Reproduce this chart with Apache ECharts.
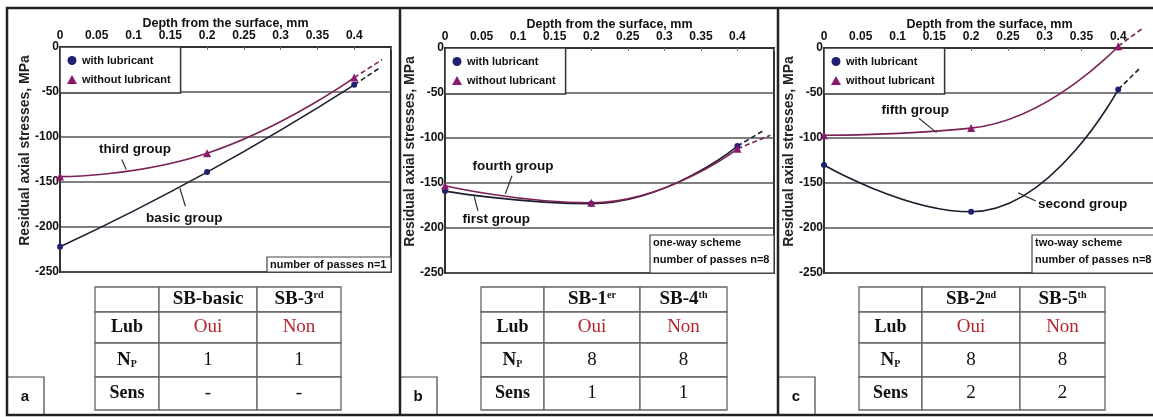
<!DOCTYPE html>
<html>
<head>
<meta charset="utf-8">
<script src="https://cdn.jsdelivr.net/npm/echarts@6.0.0/dist/echarts.min.js"></script>
<style>
  html, body { margin: 0; padding: 0; background: #fff; }
  #chart { width: 1153px; height: 417px; }
</style>
</head>
<body>
<div id="chart"></div>
<script>
var FONT = '"Liberation Sans", Arial, sans-serif';
var SERIF = '"Liberation Serif", "Times New Roman", serif';

// depth axis (mm) and stress axis (MPa)
var depthPoints = [0, 0.2, 0.4];
var depthTickLabels = ['0', '0.05', '0.1', '0.15', '0.2', '0.25', '0.3', '0.35', '0.4'];
var stressTickLabels = ['-250', '-200', '-150', '-100', '-50', '0'];

// panel a
var basicGroup = [-222, -139, -42];
var thirdGroup = [-144, -118, -34];
var basicGroupTail = [0.435, -23];
var thirdGroupTail = [0.438, -14];
// panel b
var firstGroup = [-159, -173, -109];
var fourthGroup = [-153, -172, -112];
var firstGroupTail = [0.435, -92];
var fourthGroupTail = [0.445, -97];
// panel c
var secondGroup = [-130, -182, -46];
var fifthGroup = [-97, -89, 2];
var secondGroupTail = [0.43, -22];
var fifthGroupTail = [0.435, 23];

var panelLetters = ['a', 'b', 'c'];
var passesNotes = [
  ['number of passes n=1'],
  ['one-way scheme', 'number of passes n=8'],
  ['two-way scheme', 'number of passes n=8']
];

// tables under each plot
var tableRowLabels = ['Lub', 'NP', 'Sens'];
var tableHeads = [
  [['SB-basic', ''], ['SB-3', 'rd']],
  [['SB-1', 'er'], ['SB-4', 'th']],
  [['SB-2', 'nd'], ['SB-5', 'th']]
];
var tableLub = ['Oui', 'Non'];
var tablePasses = [['1', '1'], ['8', '8'], ['8', '8']];
var tableSens = [['-', '-'], ['1', '1'], ['2', '2']];

// group labels, placed in data coordinates of each panel
var groupLabels = [
  { panel: 0, text: 'third group', at: [0.102, -114], from: [0.084, -125], to: [0.090, -136] },
  { panel: 0, text: 'basic group', at: [0.169, -190], from: [0.163, -157], to: [0.1705, -177] },
  { panel: 1, text: 'fourth group', at: [0.093, -131], from: [0.0916, -142], to: [0.0826, -162] },
  { panel: 1, text: 'first group', at: [0.070, -190], from: [0.040, -165], to: [0.045, -181] },
  { panel: 2, text: 'fifth group', at: [0.124, -69], from: [0.129, -78], to: [0.153, -94] },
  { panel: 2, text: 'second group', at: [0.3515, -174], from: [0.264, -161], to: [0.288, -170] }
];

var gridLeft = [60, 445, 824];
var gridTop = [47, 48, 48];
var gridWidth = [331, 329, 331];
var gridHeight = 225;
var tableX = [[95, 159, 257, 341], [481, 544, 640, 727], [859, 922, 1020, 1105]];
var tableY = [287, 312, 343, 377, 410];
var panelX = [7, 400, 778];

var withLub = [basicGroup, firstGroup, secondGroup];
var withoutLub = [thirdGroup, fourthGroup, fifthGroup];
var withTail = [basicGroupTail, firstGroupTail, secondGroupTail];
var withoutTail = [thirdGroupTail, fourthGroupTail, fifthGroupTail];

var WITH_LINE = '#1d1d30', WITH_MARK = '#1f2070';
var WITHOUT_LINE = '#7b2257', WITHOUT_MARK = '#8a1a6e';

function pairs(values) {
  return depthPoints.map(function (d, i) { return [d, values[i]]; });
}

var series = [];
[0, 1, 2].forEach(function (i) {
  series.push({
    name: 'with lubricant', type: 'line', xAxisIndex: i, yAxisIndex: i,
    data: pairs(withLub[i]), smooth: 0.5, clip: false,
    symbol: 'circle', symbolSize: 6,
    lineStyle: { color: WITH_LINE, width: 1.6 },
    itemStyle: { color: WITH_MARK }, z: 4
  });
  series.push({
    name: 'without lubricant', type: 'line', xAxisIndex: i, yAxisIndex: i,
    data: pairs(withoutLub[i]), smooth: 0.5, clip: false,
    symbol: 'triangle', symbolSize: 8,
    lineStyle: { color: WITHOUT_LINE, width: 1.6 },
    itemStyle: { color: WITHOUT_MARK }, z: 4
  });
  series.push({
    name: 'with tail ' + i, type: 'line', xAxisIndex: i, yAxisIndex: i,
    data: [[0.4, withLub[i][2]], withTail[i]], clip: false, symbol: 'none',
    lineStyle: { color: WITH_LINE, width: 1.6, type: [5, 3] }, z: 3
  });
  series.push({
    name: 'without tail ' + i, type: 'line', xAxisIndex: i, yAxisIndex: i,
    data: [[0.4, withoutLub[i][2]], withoutTail[i]], clip: false, symbol: 'none',
    lineStyle: { color: WITHOUT_LINE, width: 1.6, type: [5, 3] }, z: 3
  });
});

var option = {
  animation: false,
  backgroundColor: '#fff',
  grid: [0, 1, 2].map(function (i) {
    return {
      left: gridLeft[i], top: gridTop[i], width: gridWidth[i], height: gridHeight,
      show: true, borderColor: '#333', borderWidth: 2, backgroundColor: 'transparent',
      containLabel: false, outerBoundsMode: 'none'
    };
  }),
  xAxis: [0, 1, 2].map(function (i) {
    return {
      gridIndex: i, type: 'value', position: 'top', min: 0, max: 0.45, interval: 0.05,
      name: 'Depth from the surface, mm', nameLocation: 'middle', nameGap: 17, nameMoveOverlap: false,
      nameTextStyle: { fontFamily: FONT, fontWeight: 'bold', fontSize: 12.5, color: '#111' },
      axisLine: { show: true, lineStyle: { color: '#333', width: 2 } },
      axisTick: { show: true, inside: true, length: 3, lineStyle: { color: '#777' } },
      axisLabel: {
        margin: 5, fontFamily: FONT, fontWeight: 'bold', fontSize: 12, color: '#111',
        formatter: function (v) { var k = Math.round(v / 0.05); return depthTickLabels[k] || ''; }
      },
      splitLine: { show: false }
    };
  }),
  yAxis: [0, 1, 2].map(function (i) {
    return {
      gridIndex: i, type: 'value', min: -250, max: 0, interval: 50,
      name: 'Residual axial stresses, MPa', nameLocation: 'middle', nameGap: 28, nameRotate: 90,
      nameMoveOverlap: false,
      nameTextStyle: { fontFamily: FONT, fontWeight: 'bold', fontSize: 14, color: '#222', padding: [0, 0, 0, 18] },
      axisLine: { show: true, lineStyle: { color: '#333', width: 2 } },
      axisTick: { show: false },
      axisLabel: {
        margin: 1, fontFamily: FONT, fontWeight: 'bold', fontSize: 12, color: '#111',
        formatter: function (v) { var k = Math.round((v + 250) / 50); return stressTickLabels[k]; }
      },
      splitLine: { show: true, lineStyle: { color: '#555', width: 1.6 } }
    };
  }),
  legend: [0, 1, 2].map(function (i) {
    return {
      left: gridLeft[i], top: gridTop[i], orient: 'vertical', selectedMode: false,
      data: [{ name: 'with lubricant', icon: 'circle' }, { name: 'without lubricant', icon: 'triangle' }],
      backgroundColor: '#fff', borderColor: '#333', borderWidth: 1.5,
      padding: [8, 10, 8, 7], itemGap: 8, itemWidth: 10, itemHeight: 9,
      textStyle: { fontFamily: FONT, fontWeight: 'bold', fontSize: 11, color: '#111' }
    };
  }),
  series: series
};

var chart = echarts.init(document.getElementById('chart'));
chart.setOption(option);

var g = [];
// frame and dividers
g.push({ type: 'rect', shape: { x: 7, y: 8, width: 1152, height: 407 },
  style: { fill: 'none', stroke: '#222', lineWidth: 2.5 }, z: 100 });
[400, 778].forEach(function (x) {
  g.push({ type: 'line', shape: { x1: x, y1: 8, x2: x, y2: 415 },
    style: { stroke: '#222', lineWidth: 2.5 }, z: 100 });
});
// panel letters
panelLetters.forEach(function (t, i) {
  g.push({ type: 'rect', shape: { x: panelX[i], y: 377, width: 37, height: 38 },
    style: { fill: '#fff', stroke: '#444', lineWidth: 1.2 }, z: 90 });
  g.push({ type: 'text', x: panelX[i] + 18, y: 397,
    style: { text: t, fontFamily: FONT, fontWeight: 'bold', fontSize: 15, fill: '#111', align: 'center', verticalAlign: 'middle' }, z: 91 });
});
// passes notes
passesNotes.forEach(function (lines, i) {
  var right = gridLeft[i] + gridWidth[i];
  var h = lines.length === 1 ? 15 : 38;
  var x0 = i === 0 ? 267 : (i === 1 ? 650 : 1032);
  var y0 = gridTop[i] + gridHeight - h;
  g.push({ type: 'rect', shape: { x: x0, y: y0, width: right - x0, height: h },
    style: { fill: '#fff', stroke: '#444', lineWidth: 1.2 }, z: 20 });
  lines.forEach(function (t, k) {
    g.push({ type: 'text', x: x0 + 3, y: y0 + 8 + k * 17,
      style: { text: t, fontFamily: FONT, fontWeight: 'bold', fontSize: 11, fill: '#111', align: 'left', verticalAlign: 'middle' }, z: 21 });
  });
});
// group labels
groupLabels.forEach(function (a) {
  var p = chart.convertToPixel({ gridIndex: a.panel }, a.at);
  var p1 = chart.convertToPixel({ gridIndex: a.panel }, a.from);
  var p2 = chart.convertToPixel({ gridIndex: a.panel }, a.to);
  g.push({ type: 'text', x: p[0], y: p[1],
    style: { text: a.text, fontFamily: FONT, fontWeight: 'bold', fontSize: 13.5, fill: '#111', align: 'center', verticalAlign: 'middle' }, z: 30 });
  g.push({ type: 'line', shape: { x1: p1[0], y1: p1[1], x2: p2[0], y2: p2[1] },
    style: { stroke: '#333', lineWidth: 1.2 }, z: 30 });
});
// tables
var rich = {
  h: { fontFamily: SERIF, fontWeight: 'bold', fontSize: 19, fill: '#111', color: '#111' },
  s: { fontFamily: SERIF, fontWeight: 'bold', fontSize: 10, fill: '#111', color: '#111', verticalAlign: 'top' },
  d: { fontFamily: SERIF, fontWeight: 'bold', fontSize: 10, fill: '#111', color: '#111', verticalAlign: 'bottom' }
};
[0, 1, 2].forEach(function (i) {
  var xs = tableX[i];
  for (var r = 0; r < 4; r++) {
    for (var c = 0; c < 3; c++) {
      var cx = (xs[c] + xs[c + 1]) / 2, cy = (tableY[r] + tableY[r + 1]) / 2;
      g.push({ type: 'rect', shape: { x: xs[c], y: tableY[r], width: xs[c + 1] - xs[c], height: tableY[r + 1] - tableY[r] },
        style: { fill: '#fff', stroke: '#666', lineWidth: 1.3 }, z: 40 });
      var st = null;
      if (r === 0 && c > 0) {
        var hd = tableHeads[i][c - 1];
        st = { text: '{h|' + hd[0] + '}' + (hd[1] ? '{s|' + hd[1] + '}' : ''), rich: rich };
      } else if (r > 0 && c === 0) {
        var lbl = tableRowLabels[r - 1];
        st = lbl === 'NP' ? { text: '{h|N}{d|P}', rich: rich }
          : { text: lbl, fontFamily: SERIF, fontWeight: 'bold', fontSize: 18, fill: '#111' };
      } else if (r === 1) {
        st = { text: tableLub[c - 1], fontFamily: SERIF, fontSize: 19, fill: '#b5242c' };
      } else if (r === 2) {
        st = { text: tablePasses[i][c - 1], fontFamily: SERIF, fontSize: 19, fill: '#111' };
      } else if (r === 3) {
        st = { text: tableSens[i][c - 1], fontFamily: SERIF, fontSize: 19, fill: '#111' };
      }
      if (st) {
        st.align = 'center';
        st.verticalAlign = 'middle';
        g.push({ type: 'text', x: cx, y: cy, style: st, z: 41 });
      }
    }
  }
});

chart.setOption({ graphic: { elements: g } });
</script>
</body>
</html>
